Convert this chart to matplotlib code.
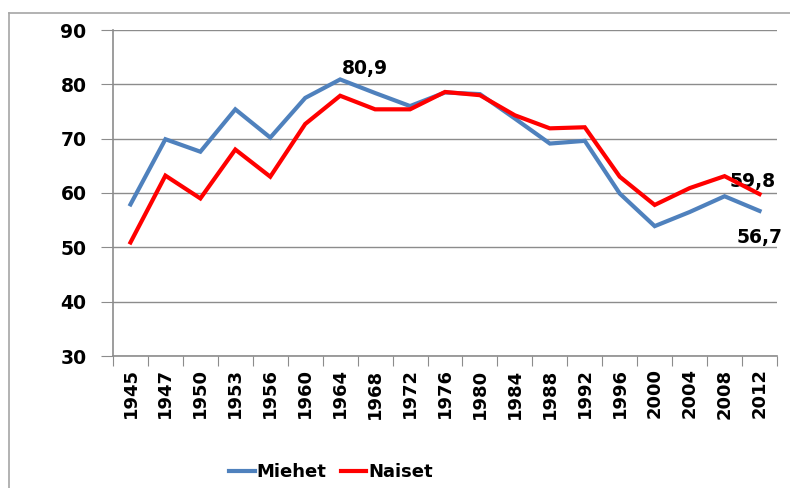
import matplotlib
matplotlib.use("Agg")
import matplotlib.pyplot as plt
from matplotlib.lines import Line2D
import numpy as np

years = ["1945", "1947", "1950", "1953", "1956", "1960", "1964", "1968", "1972", "1976",
         "1980", "1984", "1988", "1992", "1996", "2000", "2004", "2008", "2012"]
miehet = [57.9, 69.9, 67.6, 75.4, 70.2, 77.5, 80.9, 78.4, 76.0, 78.5,
          78.2, 73.7, 69.1, 69.6, 59.9, 53.9, 56.5, 59.4, 56.7]
naiset = [50.9, 63.2, 59.0, 68.0, 63.0, 72.7, 77.9, 75.4, 75.4, 78.6,
          78.0, 74.3, 71.9, 72.1, 63.0, 57.8, 60.9, 63.1, 59.8]

blue = "#4F81BD"
red = "#FF0000"
grid_c = "#8C8C8C"

plt.rcParams['font.family'] = ['DejaVu Sans']
fig = plt.figure(figsize=(7.9, 4.88), dpi=100)
ax = fig.add_axes([113/790, 1-356/488, (777-113)/790, (356-30)/488])

x = np.arange(len(years))
ax.plot(x, miehet, color=blue, lw=3.0, solid_joinstyle='miter', zorder=3)
ax.plot(x, naiset, color=red, lw=3.0, solid_joinstyle='miter', zorder=4)

ax.set_xlim(-0.5, len(years) - 0.5)
ax.set_ylim(30, 90)
ax.set_yticks(np.arange(30, 91, 10))
ax.yaxis.grid(True, color=grid_c, lw=1.0)
ax.set_axisbelow(True)
ax.tick_params(axis='y', length=9, color=grid_c, labelsize=13.5, pad=10)
for lab in ax.get_yticklabels():
    lab.set_fontweight('bold')

ax.set_xticks(np.arange(-0.5, len(years), 1.0))
ax.set_xticklabels([])
ax.tick_params(axis='x', which='major', length=7, color=grid_c)
ax.set_xticks(x, minor=True)
ax.set_xticklabels(years, minor=True, rotation=90, fontsize=13, fontweight='bold')
ax.tick_params(axis='x', which='minor', length=0, pad=9)

for s in ['top', 'right']:
    ax.spines[s].set_visible(False)
for s in ['left', 'bottom']:
    ax.spines[s].set_color(grid_c)
    ax.spines[s].set_linewidth(1.2)

ax.annotate("80,9", (6, miehet[6]), xytext=(18, 8), textcoords='offset points',
            ha='center', va='center', fontsize=13.5, fontweight='bold')
ax.annotate("59,8", (18, naiset[18]), xytext=(-5, 9), textcoords='offset points',
            ha='center', va='center', fontsize=13.5, fontweight='bold')
ax.annotate("56,7", (18, miehet[18]), xytext=(0, -19), textcoords='offset points',
            ha='center', va='center', fontsize=13.5, fontweight='bold')

# chart border (top and left edges visible)
fig.add_artist(Line2D([9/790, 9/790], [0, 1-13/488], transform=fig.transFigure,
                      color="#A6A6A6", lw=1.2))
fig.add_artist(Line2D([9/790, 1], [1-13/488, 1-13/488], transform=fig.transFigure,
                      color="#A6A6A6", lw=1.2))

handles = [Line2D([], [], color=blue, lw=3.0), Line2D([], [], color=red, lw=3.0)]
fig.legend(handles, ["Miehet", "Naiset"], loc='center', bbox_to_anchor=(331/790, 1-472/488),
           ncol=2, frameon=False, handlelength=1.4, handletextpad=0.1, columnspacing=0.8,
           prop={'weight': 'bold', 'size': 13})

fig.savefig("out.png", dpi=100)
